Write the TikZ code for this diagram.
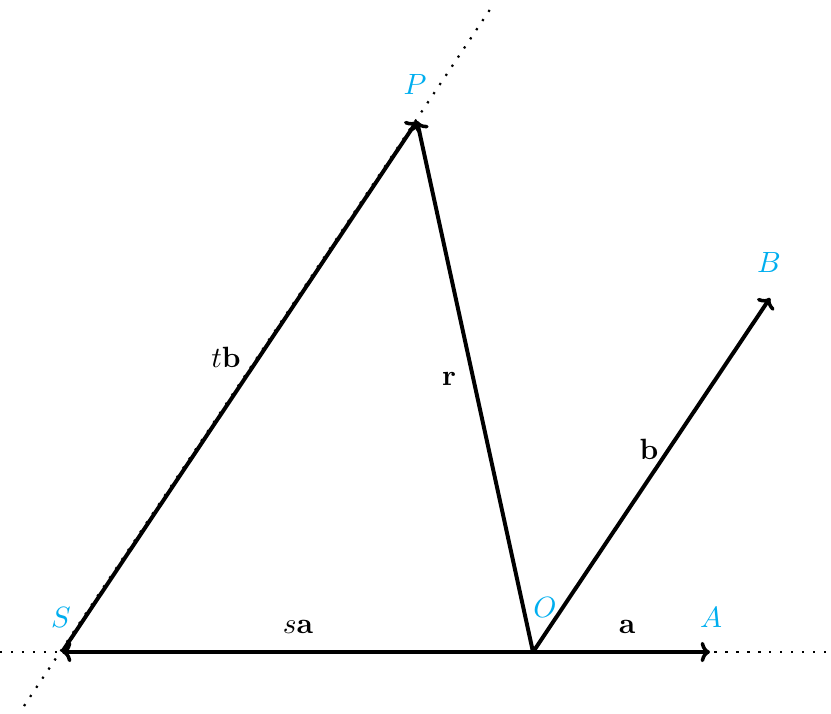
\documentclass[tikz,border=0pt]{standalone}
\usetikzlibrary{arrows.meta}
\definecolor{lbl}{RGB}{0,174,239}
\begin{document}
\begin{tikzpicture}[x=0.012cm,y=-0.012cm,
  vec/.style={line width=1.35pt,-{To[length=3.2pt,width=7pt,line width=1.2pt]}},
  dotline/.style={line width=0.75pt,dash pattern=on 0.75pt off 3pt},
  pt/.style={text=lbl,inner sep=0pt},
  vlab/.style={inner sep=0pt}]
\useasboundingbox (0,0) rectangle (831,713);
\coordinate (O) at (533,652);
\coordinate (A) at (710,652);
\coordinate (B) at (770,298);
\coordinate (S) at (62,652);
\coordinate (P) at (417,121);
\coordinate (L1) at (0,652);
\coordinate (L2) at (831,652);
\coordinate (M1) at (24,706);
\coordinate (M2) at (493,5);
\draw[dotline] (L1) -- (L2);
\draw[dotline] (M1) -- (M2);
\draw[vec] (O) -- (S);
\draw[vec] (O) -- (A);
\draw[vec] (O) -- (B);
\draw[vec] (O) -- (P);
\draw[vec] (S) -- (P);
\node[pt] (nP) at (415,84) {$P$};
\node[pt] (nS) at (61,617) {$S$};
\node[pt] (nO) at (545,607) {$O$};
\node[pt] (nA) at (711,617) {$A$};
\node[pt] (nB) at (769,262) {$B$};
\node[vlab] (ntb) at (226,357) {$t\mathbf{b}$};
\node[vlab] (nr) at (449,379) {$\mathbf{r}$};
\node[vlab] (nb) at (649,449) {$\mathbf{b}$};
\node[vlab] (nsa) at (298,627) {$s\mathbf{a}$};
\node[vlab] (na) at (627,627) {$\mathbf{a}$};
\end{tikzpicture}
\end{document}
